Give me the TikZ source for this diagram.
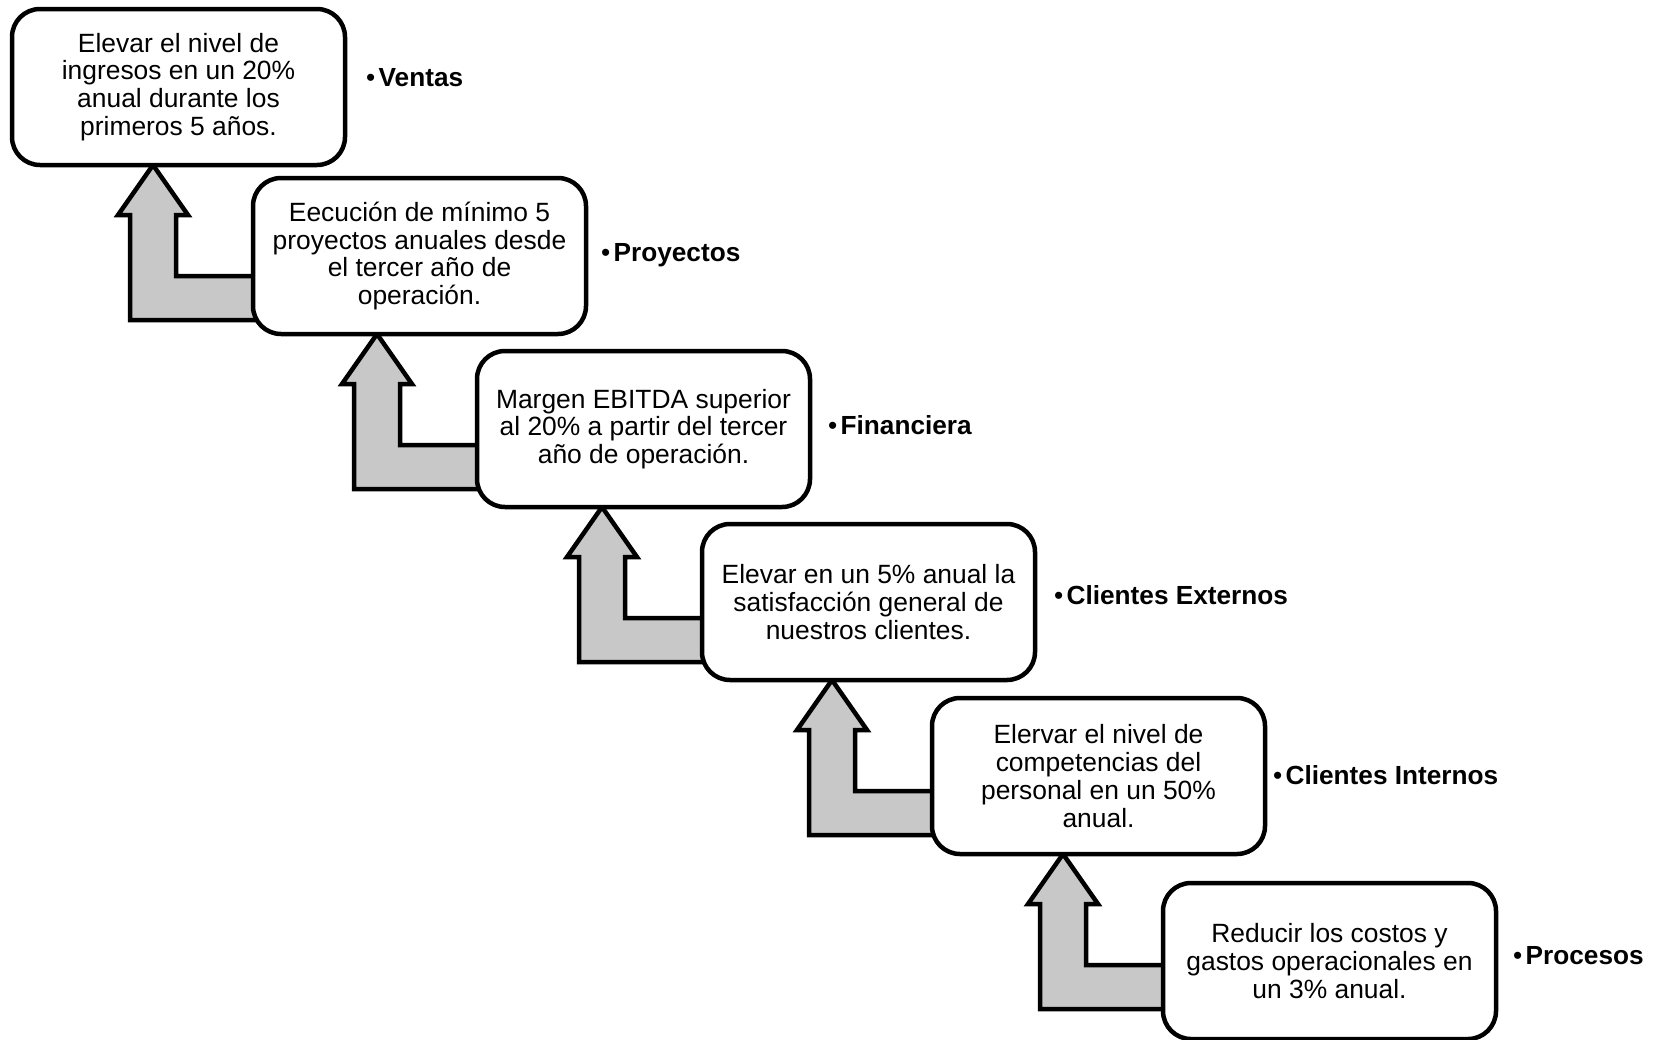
\documentclass[tikz,border=0pt]{standalone}
\usepackage{fontspec}
\setmainfont{Liberation Sans}
\usetikzlibrary{calc,backgrounds}
\definecolor{arrowgray}{RGB}{200,200,200}
\tikzset{
  goalbox/.style={draw=black, line width=4.5pt, fill=white, rounded corners=28pt,
    minimum width=333pt, minimum height=156pt, inner sep=0pt, outer sep=0pt,
    align=center, font=\fontsize{26.4}{27.7}\selectfont, anchor=north west},
  arealabel/.style={anchor=base west, inner sep=0pt, outer sep=0pt,
    font=\fontsize{26.2}{28}\selectfont},
  bentarrow/.style={draw=black, fill=arrowgray, line width=4.5pt, line join=miter}
}
\newcommand\areatext[1]{\textbullet\hspace{3.5pt}\textbf{#1}}
% bent block arrow rising from the lower box (#2) to the upper box (#1)
\newcommand\stepup[2]{%
  \draw[bentarrow] let \p1=(#2.north west), \p2=(#1.south) in
    (\x1-100pt,\y2) -- (\x1-65pt,\y2-50pt) -- (\x1-77pt,\y2-50pt)
    -- (\x1-77pt,\y2-111pt) -- (\x1+10pt,\y2-111pt) -- (\x1+10pt,\y2-155pt)
    -- (\x1-123pt,\y2-155pt) -- (\x1-123pt,\y2-50pt) -- (\x1-135pt,\y2-50pt)
    -- cycle;}
\begin{document}
\begin{tikzpicture}[x=1pt,y=-1pt]
\useasboundingbox (0,0) rectangle (1664,1039);

% goal boxes
\node[goalbox] (b1) at (12,9) {Elevar el nivel de\\ingresos en un 20\%\\anual durante los\\primeros 5 años.};
\node[goalbox] (b2) at (253,178) {Eecución de mínimo 5\\proyectos anuales desde\\el tercer año de\\operación.};
\node[goalbox] (b3) at (477,351) {Margen EBITDA superior\\al 20\% a partir del tercer\\año de operación.};
\node[goalbox] (b4) at (702,524) {Elevar en un 5\% anual la\\satisfacción general de\\nuestros clientes.};
\node[goalbox] (b5) at (932,698) {Elervar el nivel de\\competencias del\\personal en un 50\%\\anual.};
\node[goalbox] (b6) at (1163,883) {Reducir los costos y\\gastos operacionales en\\un 3\% anual.};

% area labels
\node[arealabel] (l1) at (366,86) {\areatext{Ventas}};
\node[arealabel] (l2) at (601,261) {\areatext{Proyectos}};
\node[arealabel] (l3) at (828,434) {\areatext{Financiera}};
\node[arealabel] (l4) at (1054,604) {\areatext{Clientes Externos}};
\node[arealabel] (l5) at (1273,784) {\areatext{Clientes Internos}};
\node[arealabel] (l6) at (1513,964) {\areatext{Procesos}};

% connecting arrows, behind the boxes
\begin{scope}[on background layer]
  \fill[white] (0,0) rectangle (1664,1039);
  \stepup{b1}{b2}
  \stepup{b2}{b3}
  \stepup{b3}{b4}
  \stepup{b4}{b5}
  \stepup{b5}{b6}
\end{scope}
\end{tikzpicture}
\end{document}
